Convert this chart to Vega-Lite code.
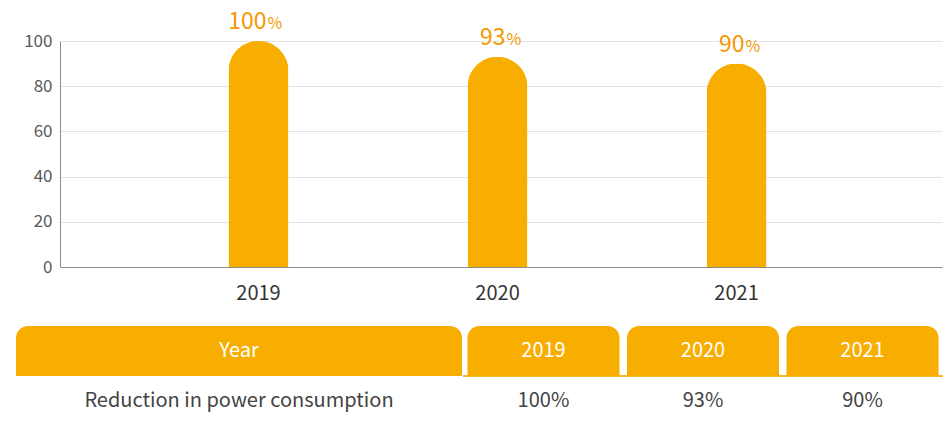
{
  "$schema": "https://vega.github.io/schema/vega-lite/v6.json",
  "padding": {"left": 11, "top": 11, "right": 0, "bottom": 0},
  "config": {"font": "Noto Sans CJK KR", "view": {"stroke": null}},
  "datasets": {
    "reduction": [
      {"year": "2019", "value": 100, "label": "100%"},
      {"year": "2020", "value": 93, "label": "93%"},
      {"year": "2021", "value": 90, "label": "90%"}
    ],
    "rowhead": [
      {"column": "Year", "metric": "Reduction in power consumption"}
    ]
  },
  "spacing": 23,
  "vconcat": [
    {
      "width": 882,
      "height": 226,
      "data": {"name": "reduction"},
      "encoding": {
        "x": {
          "field": "year", "type": "ordinal",
          "scale": {"type": "band", "paddingInner": 0, "paddingOuter": 0.345, "align": 0.479},
          "axis": {"title": null, "ticks": false, "labelAngle": 0, "labelFontSize": 20, "labelColor": "#333333", "labelPadding": 16, "domainColor": "#8C8C8C", "domainWidth": 1, "grid": false}
        },
        "y": {
          "field": "value", "type": "quantitative",
          "scale": {"domain": [0, 100], "nice": false},
          "axis": {"title": null, "values": [0, 20, 40, 60, 80, 100], "ticks": false, "domainColor": "#8C8C8C", "gridColor": "#E3E3E3", "labelFontSize": 17, "labelColor": "#595959", "labelPadding": 8, "minExtent": 49, "maxExtent": 49}
        }
      },
      "layer": [
        {"mark": {"type": "bar", "size": 60, "cornerRadiusTopLeft": 30, "cornerRadiusTopRight": 30, "color": "#F7AE00"}},
        {"mark": {"type": "text", "align": "right", "baseline": "alphabetic", "dx": 8, "dy": -12, "fontSize": 23, "color": "#F39800"},
         "encoding": {"text": {"field": "value", "type": "quantitative"}}},
        {"mark": {"type": "text", "align": "left", "baseline": "alphabetic", "dx": 9, "dy": -12, "fontSize": 16, "color": "#F39800", "text": "%"}}
      ]
    },
    {
      "spacing": 0,
      "hconcat": [
        {
          "width": 358,
          "height": 100,
          "data": {"name": "rowhead"},
          "layer": [
            {"mark": {"type": "rect", "color": "#F7AE00", "cornerRadiusTopLeft": 12, "cornerRadiusTopRight": 12, "width": {"band": 1.2458}},
             "encoding": {
               "x": {"field": "column", "type": "nominal", "scale": {"type": "band", "paddingInner": 0, "paddingOuter": 0}, "axis": null},
               "y": {"datum": "header", "type": "nominal", "scale": {"type": "band", "domain": ["header", "value"], "paddingInner": 0, "paddingOuter": 0}, "axis": null}}},
            {"mark": {"type": "text", "color": "#FFFFFF", "fontSize": 20},
             "encoding": {
               "x": {"field": "column", "type": "nominal", "scale": {"type": "band"}, "axis": null},
               "y": {"datum": "header", "type": "nominal", "scale": {"type": "band"}, "axis": null},
               "text": {"field": "column", "type": "nominal"}}},
            {"mark": {"type": "text", "color": "#444444", "fontSize": 20},
             "encoding": {
               "x": {"field": "column", "type": "nominal", "scale": {"type": "band"}, "axis": null},
               "y": {"datum": "value", "type": "nominal", "scale": {"type": "band"}, "axis": null},
               "text": {"field": "metric", "type": "nominal"}}}
          ]
        },
        {
          "width": 480,
          "height": 100,
          "data": {"name": "reduction"},
          "layer": [
            {"mark": {"type": "rule", "color": "#F7B52C", "strokeWidth": 1.5},
             "encoding": {"y": {"datum": "value", "type": "nominal", "bandPosition": 0, "scale": {"type": "band", "domain": ["header", "value"], "paddingInner": 0, "paddingOuter": 0}, "axis": null}}},
            {"mark": {"type": "rect", "color": "#F7AE00", "cornerRadiusTopLeft": 12, "cornerRadiusTopRight": 12},
             "encoding": {
               "x": {"field": "year", "type": "nominal", "scale": {"type": "band", "paddingInner": 0.047, "paddingOuter": 0.028}, "axis": null},
               "y": {"datum": "header", "type": "nominal", "scale": {"type": "band", "domain": ["header", "value"], "paddingInner": 0, "paddingOuter": 0}, "axis": null}}},
            {"mark": {"type": "text", "color": "#FFFFFF", "fontSize": 20},
             "encoding": {
               "x": {"field": "year", "type": "nominal", "scale": {"type": "band"}, "axis": null},
               "y": {"datum": "header", "type": "nominal", "scale": {"type": "band"}, "axis": null},
               "text": {"field": "year", "type": "nominal"}}},
            {"mark": {"type": "text", "color": "#444444", "fontSize": 20},
             "encoding": {
               "x": {"field": "year", "type": "nominal", "scale": {"type": "band"}, "axis": null},
               "y": {"datum": "value", "type": "nominal", "scale": {"type": "band"}, "axis": null},
               "text": {"field": "label", "type": "nominal"}}}
          ]
        }
      ]
    }
  ]
}
